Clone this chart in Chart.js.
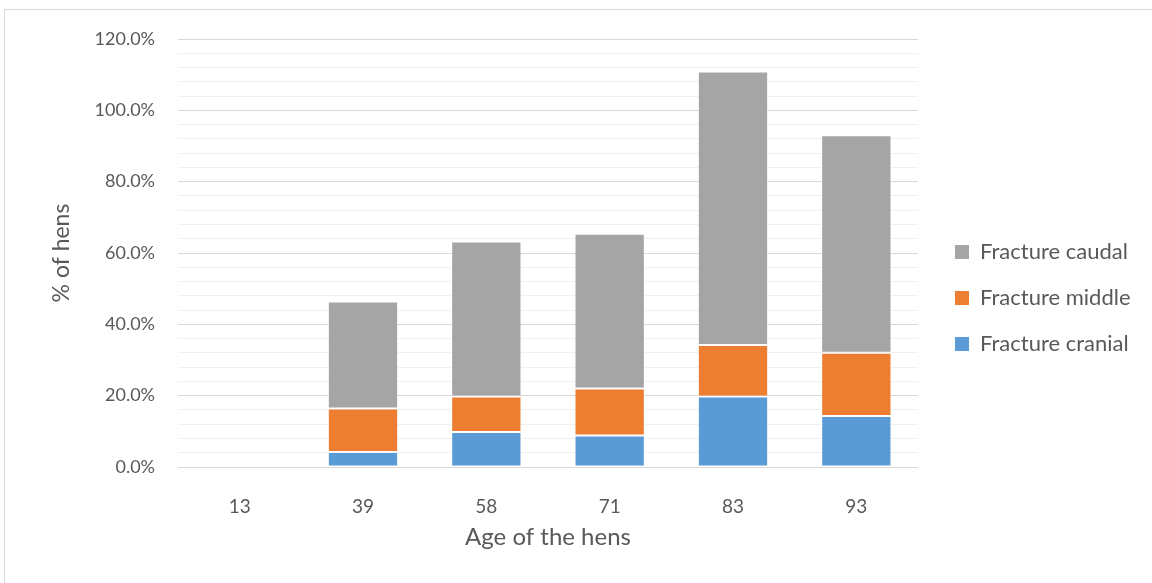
<!DOCTYPE html>
<html>
<head>
<meta charset="utf-8">
<script src="https://cdn.jsdelivr.net/npm/chart.js@4"></script>
<style>
  html, body { margin: 0; padding: 0; background: #ffffff; overflow: hidden; }
  #wrap { position: relative; width: 1152px; height: 583px; }
  #frame { position: absolute; left: 4px; top: 9px; width: 1200px; height: 700px;
           border: 1px solid #d9d9d9; box-sizing: border-box; }
  canvas { position: absolute; left: 0; top: 0; }
</style>
</head>
<body>
<div id="wrap">
  <div id="frame"></div>
  <canvas id="chart" width="1152" height="583"></canvas>
</div>
<script>
// Age of the hens (weeks)
const ages = ['13', '39', '58', '71', '83', '93'];

// Share of hens with a keel bone fracture, by location (%)
const fractureCranial = [0, 4.2, 9.8, 8.8, 19.8, 14.3];
const fractureMiddle  = [0, 12.2, 10.0, 13.2, 14.4, 17.7];
const fractureCaudal  = [0, 30.0, 43.4, 43.4, 76.7, 61.0];

// Value axis: labelled every 20 %, light minor lines every 4 %
const yMin = 0;
const yMax = 120;
const yStep = 4;
const yLabelEvery = 20;

const textColor = '#595959';
const fontFamily = 'Lato, "Liberation Sans", sans-serif';

// Fixed legend column to the right of the plot, items stacked top-down
const legendPlacement = {
  id: 'legendPlacement',
  beforeInit(chart) {
    const legend = chart.legend;
    const fit = legend.fit;
    legend.fit = function () {
      fit.call(this);
      this.width = 234;
    };
  },
  afterLayout(chart) {
    const lg = chart.legend;
    const h = lg.height;
    lg.left += 13;
    lg.right += 13;
    lg.top = 217;
    lg.bottom = 217 + h;
  }
};

const barStyle = (color) => ({
  backgroundColor: color,
  borderColor: 'rgba(255,255,255,0.3)',
  borderWidth: (ctx) => (ctx.raw ? 1 : 0),
  borderSkipped: false,
  categoryPercentage: 1.0,
  barPercentage: 0.57
});

new Chart(document.getElementById('chart'), {
  type: 'bar',
  data: {
    labels: ages,
    datasets: [
      Object.assign({ label: 'Fracture cranial', data: fractureCranial }, barStyle('#5B9BD5')),
      Object.assign({ label: 'Fracture middle',  data: fractureMiddle },  barStyle('#ED7D31')),
      Object.assign({ label: 'Fracture caudal',  data: fractureCaudal },  barStyle('#A5A5A5'))
    ]
  },
  options: {
    responsive: false,
    animation: false,
    devicePixelRatio: 1,
    layout: { padding: { left: 48, top: 39, right: 0, bottom: 25 } },
    plugins: {
      tooltip: { enabled: false },
      legend: {
        position: 'right',
        align: 'start',
        reverse: true,
        labels: {
          color: textColor,
          font: { family: fontFamily, size: 22 },
          boxWidth: 14,
          boxHeight: 14,
          padding: 24
        }
      }
    },
    scales: {
      x: {
        stacked: true,
        grid: { display: false },
        border: { display: false },
        ticks: {
          color: textColor,
          font: { family: fontFamily, size: 19 },
          padding: 20
        },
        title: {
          display: true,
          text: 'Age of the hens',
          color: textColor,
          font: { family: fontFamily, size: 24 },
          padding: { top: 0, bottom: 6 }
        },
        afterFit(scale) { scale.height = 91; }
      },
      y: {
        stacked: true,
        min: yMin,
        max: yMax,
        border: { display: false },
        grid: {
          drawTicks: false,
          lineWidth: 1,
          color: (ctx) => (Math.round(ctx.tick.value) % yLabelEvery === 0 ? '#d9d9d9' : '#f0f0f0')
        },
        ticks: {
          stepSize: yStep,
          autoSkip: false,
          color: textColor,
          font: { family: fontFamily, size: 18 },
          padding: 23,
          callback: (v) => (Math.round(v) % yLabelEvery === 0 ? Number(v).toFixed(1) + '%' : '')
        },
        title: {
          display: true,
          text: '% of hens',
          color: textColor,
          font: { family: fontFamily, size: 23 },
          padding: { top: 0, bottom: 0 }
        },
        afterFit(scale) { scale.width = 130; }
      }
    }
  },
  plugins: [legendPlacement]
});
</script>
</body>
</html>
